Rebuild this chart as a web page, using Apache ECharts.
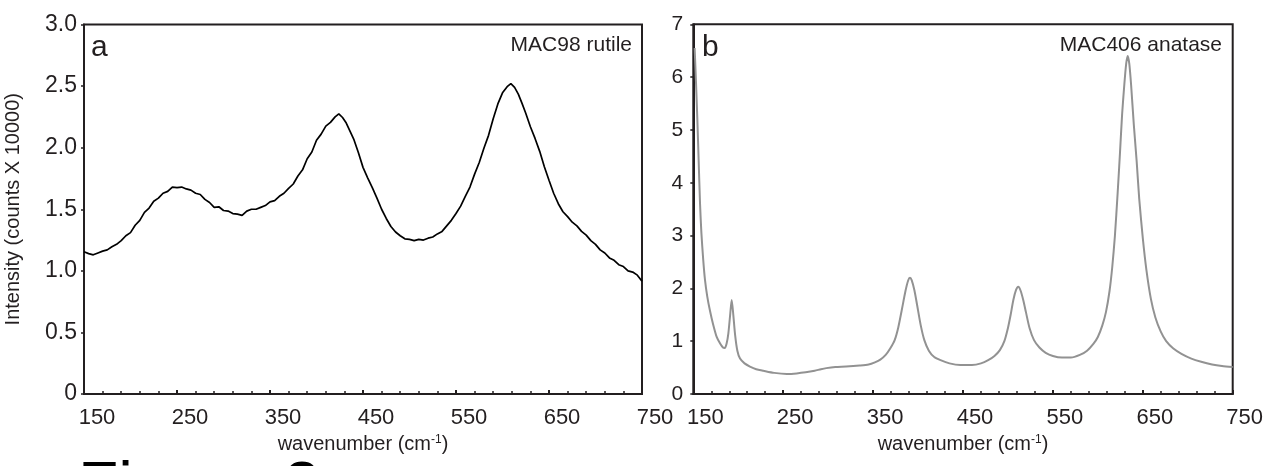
<!DOCTYPE html>
<html>
<head>
<meta charset="utf-8">
<script src="https://cdn.jsdelivr.net/npm/echarts@6/dist/echarts.min.js"></script>
<style>
html,body{margin:0;padding:0;background:#fff;}
#chart{width:1267px;height:466px;}
</style>
</head>
<body>
<div id="chart"></div>
<script>
// ---- data ----
const rutileWavenumber = [150,155,160,165,170,175,180,185,190,195,200,205,210,215,220,225,230,235,240,245,250,255,260,265,270,275,280,285,290,295,300,305,310,315,320,325,330,335,340,345,350,355,360,365,370,375,380,385,390,395,400,405,410,415,420,424,428,432,436,440,445,450,455,460,465,470,475,480,485,490,495,500,505,510,515,520,525,530,535,540,545,550,555,560,565,570,575,580,585,590,595,600,605,609,613,617,621,625,630,635,640,645,650,655,660,665,670,675,680,685,690,695,700,705,710,715,720,725,730,735,740,745,750];
const rutileIntensity = [1.155,1.14,1.13,1.145,1.16,1.17,1.195,1.215,1.245,1.285,1.31,1.37,1.41,1.475,1.51,1.565,1.59,1.63,1.645,1.68,1.675,1.68,1.665,1.655,1.63,1.62,1.58,1.555,1.515,1.52,1.49,1.485,1.465,1.46,1.45,1.485,1.5,1.5,1.515,1.53,1.56,1.57,1.605,1.63,1.67,1.705,1.77,1.82,1.91,1.965,2.06,2.11,2.175,2.205,2.25,2.275,2.245,2.2,2.135,2.07,1.96,1.84,1.755,1.675,1.59,1.5,1.425,1.36,1.315,1.285,1.26,1.255,1.245,1.255,1.25,1.265,1.275,1.3,1.32,1.365,1.41,1.465,1.525,1.605,1.68,1.785,1.88,1.995,2.1,2.235,2.355,2.445,2.495,2.52,2.49,2.435,2.36,2.28,2.17,2.075,1.97,1.845,1.735,1.63,1.545,1.48,1.44,1.395,1.365,1.32,1.29,1.245,1.215,1.17,1.145,1.105,1.085,1.05,1.035,1.0,0.99,0.965,0.915];

const anataseWavenumber = [151.5,153,154.5,156,157.5,159,161,163,165.5,168.5,172,176,180,183,185,187,189,191,192.7,194.5,196.5,199,202,207,213,220,228,240,254,265,275,285,292,298,308,320,335,345,352,358,364,369,374,378,382,386,389,391,393,396,399,403,407,412,418,425,435,447,460,470,478,485,491,496,500,503,506,509,511.5,514,517,520,524,529,535,542,550,560,570,580,588,595,600,605,609,613,616,619,622,624.6,627,629.4,631.5,633.2,635,637,640,643.2,646,650,654,659,664,670,676,684,693,704,715,727,738,750];
const anataseIntensity = [6.55,5.9,5.2,4.4,3.6,3.05,2.55,2.16,1.85,1.58,1.32,1.08,0.95,0.88,0.87,0.95,1.15,1.5,1.78,1.5,1.12,0.82,0.67,0.58,0.52,0.47,0.44,0.4,0.38,0.39,0.41,0.44,0.47,0.49,0.51,0.52,0.54,0.56,0.6,0.65,0.74,0.86,1.02,1.26,1.6,1.95,2.15,2.2,2.15,1.96,1.68,1.3,1.02,0.82,0.7,0.64,0.58,0.55,0.55,0.58,0.64,0.72,0.83,1.0,1.25,1.5,1.78,1.97,2.03,1.96,1.78,1.55,1.25,1.02,0.88,0.78,0.72,0.69,0.69,0.74,0.82,0.95,1.08,1.3,1.55,1.95,2.4,3.0,3.8,4.56,5.3,5.85,6.25,6.4,6.25,5.85,5.1,4.4,3.7,2.95,2.35,1.8,1.45,1.18,1.0,0.86,0.76,0.67,0.61,0.56,0.53,0.51];

const xTickLabels = ['150','250','350','450','550','650','750'];
const leftYLabels = ['0','0.5','1.0','1.5','2.0','2.5','3.0'];
const rightYLabels = ['0','1','2','3','4','5','6','7'];
const panelLabels = ['a','b'];
const sampleNames = ['MAC98 rutile','MAC406 anatase'];
const yAxisTitle = 'Intensity (counts X 10000)';
const figureCaption = 'Figure 2';

// ---- chart ----
const ink = '#231f20';
const FONT = '"Liberation Sans", Arial, Helvetica, sans-serif';
const chart = echarts.init(document.getElementById('chart'), null, {renderer:'canvas'});

function xAxisCfg(gridIndex, padLeft) {
  return {
    type:'value', gridIndex, min:150, max:750, interval:100,
    name:'wavenumber (cm{sup|-1})', nameLocation:'middle', nameGap:36,
    nameTextStyle:{color:ink, fontSize:20, fontFamily:FONT,
      rich:{sup:{fontSize:12, verticalAlign:'top', padding:[0,0,10,0], color:ink, fontFamily:FONT}}},
    axisLine:{show:true, lineStyle:{color:ink, width:2}},
    axisTick:{show:true, inside:true, length:4, lineStyle:{color:ink, width:2}},
    minorTick:{show:true, splitNumber:5, length:3, lineStyle:{color:ink, width:1.5}},
    splitLine:{show:false},
    axisLabel:{color:ink, fontSize:22, fontFamily:FONT, margin:13, padding:[0,0,0,padLeft],
      formatter:(v)=>{const s=String(Math.round(v)); return xTickLabels.includes(s)?s:'';}},
  };
}

chart.setOption({
  animation:false,
  backgroundColor:'#fff',
  grid:[
    {left:84, top:24.5, width:558, height:369.5, show:true, borderColor:ink, borderWidth:2, backgroundColor:'transparent'},
    {left:693.3, top:24.3, width:539.4, height:369.7, show:true, borderColor:ink, borderWidth:2, backgroundColor:'transparent'}
  ],
  xAxis:[xAxisCfg(0,26), xAxisCfg(1,24)],
  yAxis:[
    {type:'value', gridIndex:0, min:0, max:3, interval:0.5,
     name:yAxisTitle, nameLocation:'middle', nameGap:61,
     nameTextStyle:{color:ink, fontSize:20, fontFamily:FONT},
     axisLine:{show:true, lineStyle:{color:ink, width:2}},
     axisTick:{show:true, inside:false, length:3, lineStyle:{color:ink, width:1.5}},
     splitLine:{show:false},
     axisLabel:{color:ink, fontSize:23, fontFamily:FONT, margin:7,
       formatter:(v)=>leftYLabels[Math.round(v*2)]}},
    {type:'value', gridIndex:1, min:0, max:7, interval:1,
     axisLine:{show:true, lineStyle:{color:ink, width:2}},
     axisTick:{show:true, inside:false, length:3, lineStyle:{color:ink, width:1.5}},
     splitLine:{show:false},
     axisLabel:{color:ink, fontSize:21, fontFamily:FONT, margin:10,
       formatter:(v)=>rightYLabels[Math.round(v)]}}
  ],
  series:[
    {type:'line', xAxisIndex:0, yAxisIndex:0, showSymbol:false, symbol:'none',
     data:rutileWavenumber.map((x,i)=>[x,rutileIntensity[i]]),
     lineStyle:{color:'#000', width:1.7}, z:3},
    {type:'line', xAxisIndex:1, yAxisIndex:1, showSymbol:false, symbol:'none', smooth:0.25,
     data:anataseWavenumber.map((x,i)=>[x,anataseIntensity[i]]),
     lineStyle:{color:'#929292', width:2}, z:3}
  ],
  graphic:[
    {type:'text', x:91, y:63, style:{text:panelLabels[0], font:'30px '+FONT, fill:ink, textVerticalAlign:'bottom'}},
    {type:'text', x:702, y:63, style:{text:panelLabels[1], font:'30px '+FONT, fill:ink, textVerticalAlign:'bottom'}},
    {type:'text', x:632, y:45, style:{text:sampleNames[0], font:'21px '+FONT, fill:ink, textAlign:'right', textVerticalAlign:'middle'}},
    {type:'text', x:1222, y:45, style:{text:sampleNames[1], font:'21px '+FONT, fill:ink, textAlign:'right', textVerticalAlign:'middle'}},
    {type:'text', x:78, y:490, style:{text:figureCaption, font:'66px '+FONT, fill:'#000', textVerticalAlign:'middle'}}
  ]
});
</script>
</body>
</html>
